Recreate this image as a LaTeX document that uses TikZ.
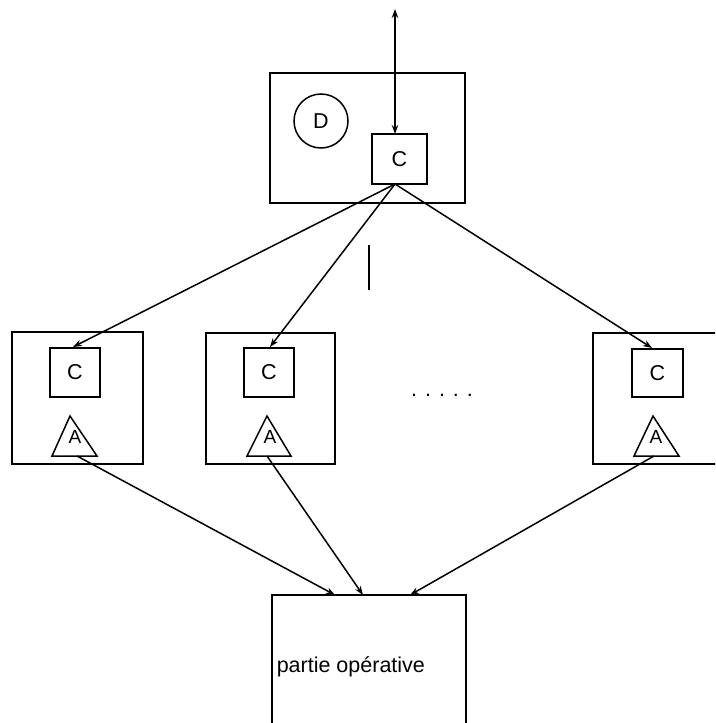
\documentclass[tikz,border=0pt]{standalone}
\usepackage{fontspec}
\setmainfont{Liberation Sans}
\usetikzlibrary{arrows.meta}
\begin{document}
\begin{tikzpicture}[x=1pt,y=-1pt,
  line width=1.5pt,
  frame/.style={draw, rectangle, inner sep=0pt},
  unit/.style={draw, rectangle, inner sep=0pt, font=\fontsize{21.5}{24}\selectfont},
  lbl/.style={inner sep=0pt, font=\fontsize{21.5}{24}\selectfont},
  albl/.style={inner sep=0pt, font=\fontsize{19}{21}\selectfont},
  link/.style={-{Stealth[length=9pt,width=6.5pt]}},
  dlink/.style={{Stealth[length=9pt,width=6.5pt]}-{Stealth[length=9pt,width=6.5pt]}}]
\useasboundingbox (0,0) rectangle (715,723);
\clip (0,0) rectangle (715,723);

% supervisor block
\node[frame, minimum width=195pt, minimum height=130pt] (top) at (367.5,138) {};
\node[draw, circle, inner sep=0pt, minimum size=54pt, lbl] (d) at (321,121) {D};
\node[unit, minimum width=55pt, minimum height=50pt] (ctop) at (399.5,159) {C};
\coordinate (ext) at (395,9);
\coordinate (cin) at (395,134);
\coordinate (cout) at (395,184);
\draw[dlink] (ext) -- (cin);

% small vertical mark
\coordinate (m1) at (369,245);
\coordinate (m2) at (369,290);
\draw (m1) -- (m2);

% local blocks
\node[frame, minimum width=131pt, minimum height=132pt] (b1) at (77.5,398) {};
\node[unit, minimum width=50pt, minimum height=49pt] (c1) at (75,372.5) {C};
\draw (70,416) -- (52,456) -- (97,456) -- cycle;
\node[albl] (a1) at (75,437) {A};

\node[frame, minimum width=129pt, minimum height=131pt] (b2) at (270.5,398.5) {};
\node[unit, minimum width=50pt, minimum height=49pt] (c2) at (269,372.5) {C};
\draw (267,416) -- (247,456) -- (291,456) -- cycle;
\node[albl] (a2) at (270,437) {A};

\node[frame, minimum width=137pt, minimum height=131pt] (b3) at (661.5,398.5) {};
\node[unit, minimum width=51pt, minimum height=48pt] (c3) at (657.5,373) {C};
\draw (653,416) -- (634,456) -- (679,456) -- cycle;
\node[albl] (a3) at (656,437) {A};

\node[lbl, anchor=base] (dots) at (442,396) {. . . . .};

% operative part
\node[frame, minimum width=194pt, minimum height=150pt] (po) at (369,670) {};
\node[lbl, anchor=base west] (potext) at (276,672) {partie opérative};

% connectors
\coordinate (t1) at (73,347);
\coordinate (t2) at (270,347);
\coordinate (t3) at (652,348);
\draw[link] (cout) -- (t1);
\draw[link] (cout) -- (t2);
\draw[link] (cout) -- (t3);

\coordinate (s1) at (77,456);
\coordinate (s2) at (267,456);
\coordinate (s3) at (654,456);
\coordinate (p1) at (335,595);
\coordinate (p2) at (363,595);
\coordinate (p3) at (410,595);
\draw[link] (s1) -- (p1);
\draw[link] (s2) -- (p2);
\draw[link] (s3) -- (p3);
\end{tikzpicture}
\end{document}
